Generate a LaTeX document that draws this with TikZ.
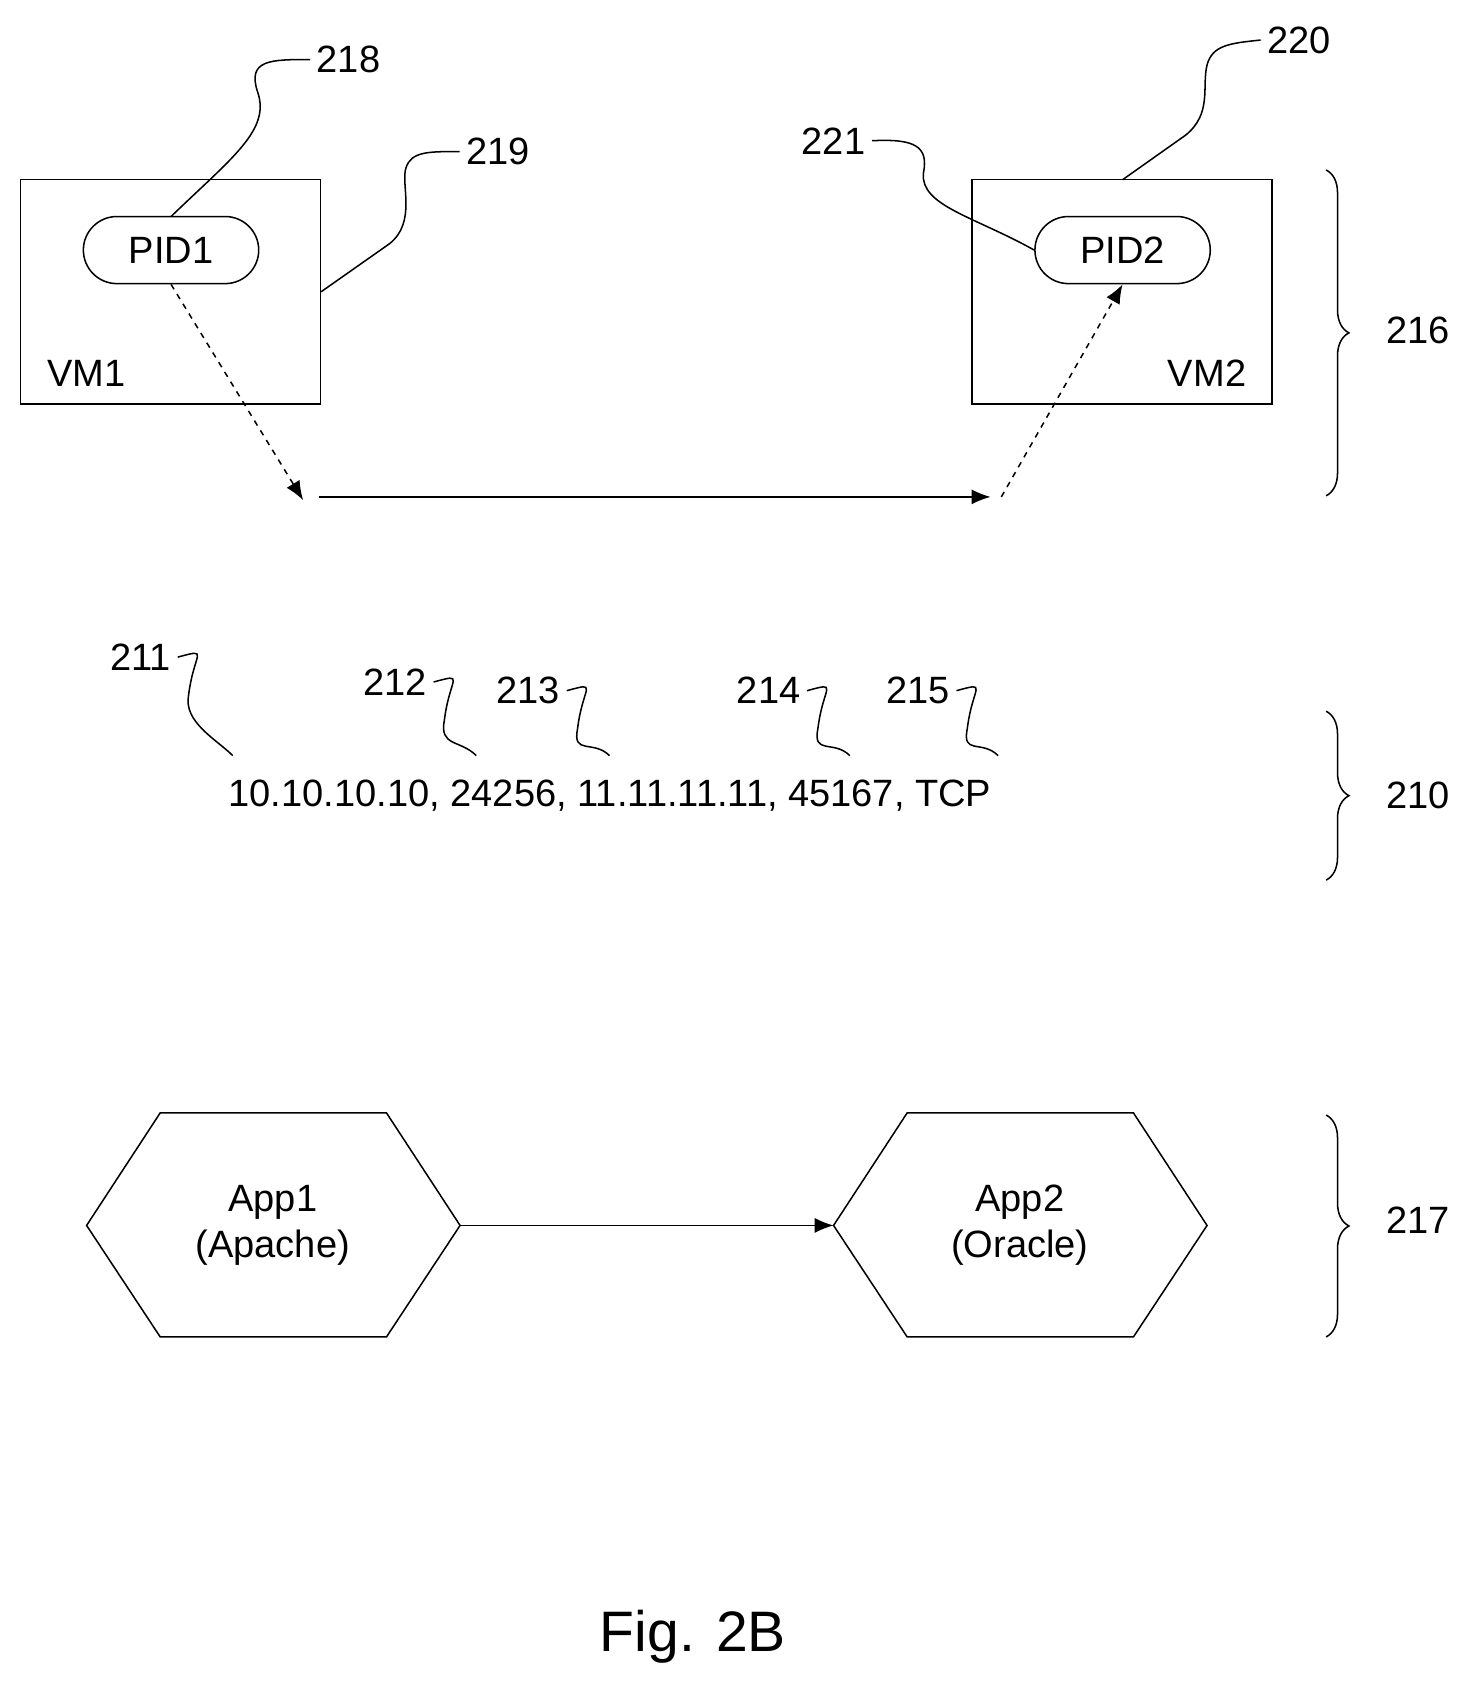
\documentclass[tikz,border=0pt]{standalone}
\usepackage{fontspec}
\setmainfont{Liberation Sans}
\usetikzlibrary{arrows.meta,decorations.pathreplacing,shapes.misc}
\begin{document}
\begin{tikzpicture}[x=0.02cm,y=-0.02cm]
      \tikzset{
        every node/.style={font=\fontsize{20}{24}\selectfont},
        box/.style={draw,thick,minimum width=5.54cm,minimum height=4.14cm},
        pid/.style={draw,thick,rounded rectangle,minimum width=3.24cm,minimum height=1.24cm,inner sep=0pt},
        lead/.style={thick},
        flow/.style={thick,-{Latex[length=10pt,width=8pt]}},
        brc/.style={thick,decorate,decoration={brace,amplitude=12pt}}
      }
      \useasboundingbox (0,0) rectangle (1365,1575);

      % top layer
      \node[box] (vm1) at (157.5,269.5) {};
      \node[box] (vm2) at (1036.5,269.5) {};
      \node at (80,345) {VM1};
      \node at (1115,345) {VM2};
      \node[pid] (pid1) at (158,231) {PID1};
      \node[pid] (pid2) at (1037,231) {PID2};
      \coordinate (s1) at (280,462);
      \coordinate (s2) at (295,459);
      \coordinate (e2) at (915,459);
      \coordinate (e3) at (925,459);
      \draw[flow,dashed] (pid1.south) -- (s1);
      \draw[flow] (s2) -- (e2);
      \draw[flow,dashed] (e3) -- (pid2.south);

      \node (n218) at (322,55) {218};
      \node (n219) at (460,140) {219};
      \node (n220) at (1200,37) {220};
      \node (n221) at (770,130) {221};
      \draw[lead] (158,200) .. controls (215,145) and (250,120) .. (238,85)
                  .. controls (228,55) and (250,55) .. (n218.west);
      \draw[lead] (vm1.east) -- (360,225) .. controls (385,205) and (370,170) .. (375,155)
                  .. controls (380,140) and (395,140) .. (n219.west);
      \draw[lead] (1037,166) -- (1095,125) .. controls (1120,105) and (1110,80) .. (1115,60)
                  .. controls (1120,42) and (1135,40) .. (n220.west);
      \draw[lead] (n221.east) .. controls (845,128) and (858,135) .. (853,160)
                  .. controls (850,190) and (900,200) .. (pid2.west);

      % middle layer
      \node[anchor=west] (tuple) at (205,735) {10.10.10.10, 24256, 11.11.11.11, 45167, TCP};
      \node (n211) at (130,607) {211};
      \node (n212) at (365,630) {212};
      \node (n213) at (488,638) {213};
      \node (n214) at (710,638) {214};
      \node (n215) at (848,638) {215};
      \foreach \n/\x in {n211/215,n212/440,n213/563,n214/785,n215/922}
        \draw[lead] (\n.east) .. controls ++(30,-8) and ++(5,-40) .. ++(10,35)
                    .. controls ++(-5,25) and ++(-15,-15) .. (\x,698);

      % bottom layer
      \coordinate (a1r) at (425,1132);
      \coordinate (a2l) at (770,1132);
      \draw[thick] (80,1132) -- (148,1028) -- (357,1028) -- (a1r) -- (357,1235) -- (148,1235) -- cycle;
      \draw[thick] (a2l) -- (838,1028) -- (1047,1028) -- (1115,1132) -- (1047,1235) -- (838,1235) -- cycle;
      \node[align=center] (app1) at (252,1132) {App1\\(Apache)};
      \node[align=center] (app2) at (942,1132) {App2\\(Oracle)};
      \draw[flow] (a1r) -- (a2l);

      % braces
      \draw[brc] (1225,157) -- (1225,458);
      \draw[brc] (1225,657) -- (1225,813);
      \draw[brc] (1225,1030) -- (1225,1235);
      \node (n216) at (1310,305) {216};
      \node (n210) at (1310,735) {210};
      \node (n217) at (1310,1127) {217};

      \node[font=\fontsize{30}{36}\selectfont] (fig) at (640,1512) {Fig. 2B};
\end{tikzpicture}
\end{document}
